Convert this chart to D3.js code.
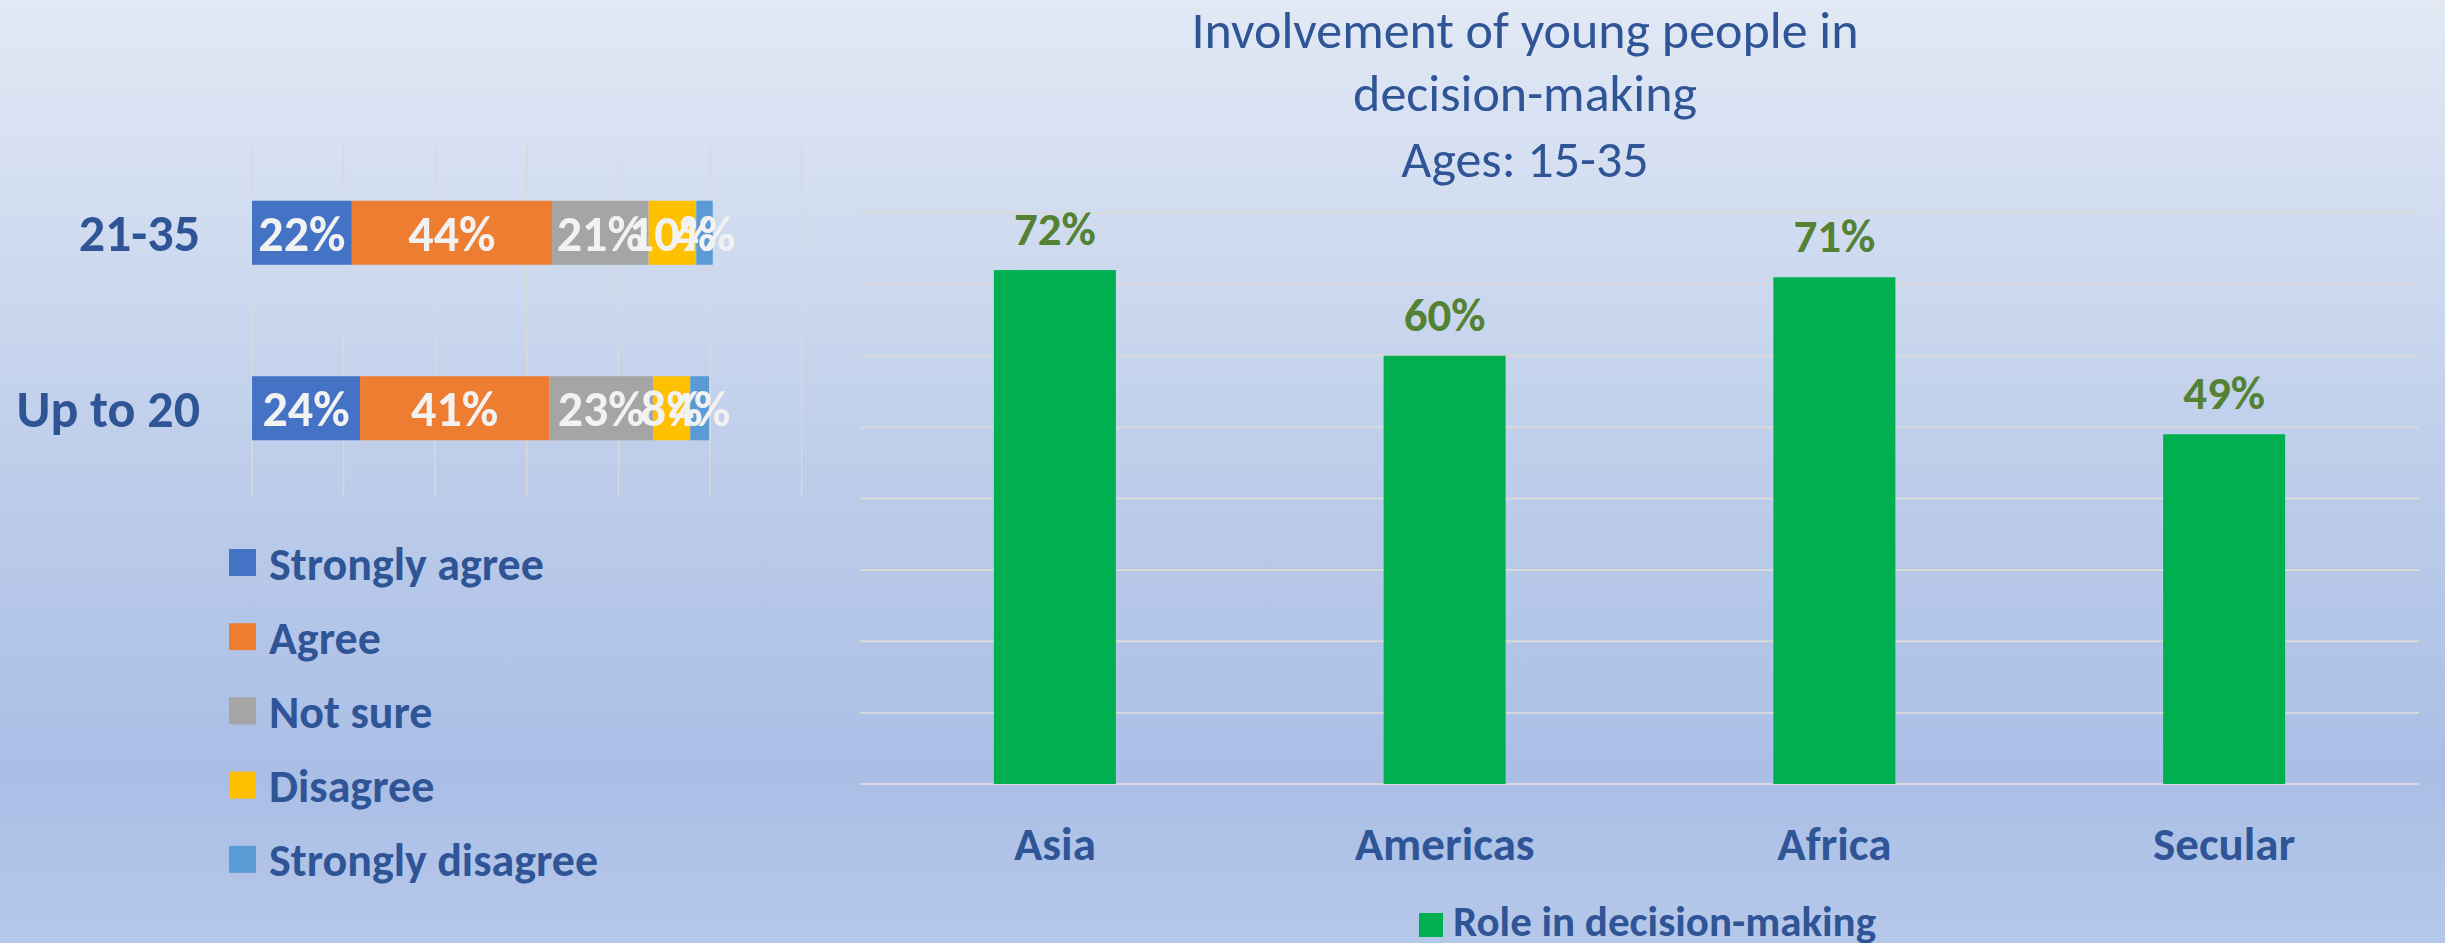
<!DOCTYPE html>
<html>
<head>
<meta charset="utf-8">
<script src="https://cdn.jsdelivr.net/npm/d3@7"></script>
<style>
  html, body { margin: 0; padding: 0; }
  body { width: 2445px; height: 943px; overflow: hidden; }
  svg text { font-family: Carlito, Calibri, Lato, "Open Sans", sans-serif; }
</style>
</head>
<body>
<svg id="chart" width="2445" height="943"></svg>
<script>
// ---------- data ----------
const ageGroups = ["21-35", "Up to 20"];
const responses = ["Strongly agree", "Agree", "Not sure", "Disagree", "Strongly disagree"];
const responseColors = ["#4472C4", "#ED7D31", "#A5A5A5", "#FFC000", "#5B9BD5"];
const values21to35 = [0.218, 0.437, 0.211, 0.104, 0.036];
const valuesUpTo20 = [0.236, 0.413, 0.227, 0.081, 0.041];
const leftTicks = [0, 0.2, 0.4, 0.6, 0.8, 1.0, 1.2];

const regions = ["Asia", "Americas", "Africa", "Secular"];
const decisionRole = [0.72, 0.60, 0.71, 0.49];
const rightTicks = [0, 0.1, 0.2, 0.3, 0.4, 0.5, 0.6, 0.7, 0.8];
const seriesName = "Role in decision-making";
const titleLines = ["Involvement of young people in", "decision-making", "Ages: 15-35"];

// ---------- setup ----------
const svg = d3.select("#chart");
const defs = svg.append("defs");
const grad = defs.append("linearGradient").attr("id", "bg").attr("x1", 0).attr("y1", 0).attr("x2", 0).attr("y2", 1);
[["0%", "#e2e9f5"], ["50%", "#bdcdea"], ["82%", "#aabee6"], ["100%", "#b6c8e9"]].forEach(([o, c]) =>
  grad.append("stop").attr("offset", o).attr("stop-color", c));
svg.append("rect").attr("width", 2445).attr("height", 943).attr("fill", "url(#bg)");

const blue = "#2F5597";
const fmt = d3.format(".0%");

// ---------- left stacked bar chart ----------
const stackRows = ageGroups.map((g, i) => {
  const vals = i === 0 ? values21to35 : valuesUpTo20;
  const row = { group: g };
  responses.forEach((r, j) => row[r] = vals[j]);
  return row;
});
const series = d3.stack().keys(responses)(stackRows);

const xL = d3.scaleLinear().domain([0, 1.2]).range([252, 801.6]);
const yL = d3.scaleBand().domain(ageGroups).range([145, 496]).paddingInner(0.635).paddingOuter(0.3175);

const left = svg.append("g");
left.append("g").selectAll("line").data(leftTicks).join("line")
  .attr("x1", d => xL(d)).attr("x2", d => xL(d))
  .attr("y1", 145).attr("y2", 496)
  .attr("stroke", "#d9d9d9").attr("stroke-width", 1.5);

const layers = left.append("g").selectAll("g").data(series).join("g")
  .attr("fill", (d, i) => responseColors[i]);
layers.selectAll("rect").data(d => d).join("rect")
  .attr("x", d => xL(d[0]))
  .attr("width", d => xL(d[1]) - xL(d[0]))
  .attr("y", d => yL(d.data.group))
  .attr("height", yL.bandwidth());

const labelLayers = left.append("g").selectAll("g").data(series).join("g");
labelLayers.selectAll("text").data(d => d.map(p => ({ p, key: d.key }))).join("text")
  .attr("x", d => (xL(d.p[0]) + xL(d.p[1])) / 2)
  .attr("y", d => yL(d.p.data.group) + yL.bandwidth() / 2)
  .attr("dy", "0.36em")
  .attr("text-anchor", "middle")
  .attr("font-size", 50).attr("font-weight", "bold")
  .attr("fill", "#f2f2f2")
  .text(d => fmt(d.p.data[d.key]));

left.append("g").selectAll("text").data(ageGroups).join("text")
  .attr("x", 200)
  .attr("y", d => yL(d) + yL.bandwidth() / 2)
  .attr("dy", "0.36em")
  .attr("text-anchor", "end")
  .attr("font-size", 52).attr("font-weight", "bold")
  .attr("fill", blue)
  .text(d => d);

const legL = left.append("g").selectAll("g").data(responses).join("g")
  .attr("transform", (d, i) => `translate(229, ${549 + i * 74.2})`);
legL.append("rect").attr("width", 27).attr("height", 27).attr("fill", (d, i) => responseColors[i]);
legL.append("text").attr("x", 40).attr("y", 13.5).attr("dy", "0.37em")
  .attr("font-size", 46).attr("font-weight", "bold").attr("fill", blue)
  .text(d => d);

// ---------- right column chart ----------
const xR = d3.scaleBand().domain(regions).range([860, 2419]).paddingInner(0.687).paddingOuter(0.3435);
const yR = d3.scaleLinear().domain([0, 0.8]).range([784, 213]);

const right = svg.append("g");
right.append("g").selectAll("line").data(rightTicks).join("line")
  .attr("x1", 860).attr("x2", 2419)
  .attr("y1", d => yR(d)).attr("y2", d => yR(d))
  .attr("stroke", "#d9d9d9").attr("stroke-width", 2);

right.append("g").selectAll("rect").data(regions).join("rect")
  .attr("x", d => xR(d))
  .attr("width", xR.bandwidth())
  .attr("y", (d, i) => yR(decisionRole[i]))
  .attr("height", (d, i) => yR(0) - yR(decisionRole[i]))
  .attr("fill", "#00B050");

right.append("g").selectAll("text").data(regions).join("text")
  .attr("x", d => xR(d) + xR.bandwidth() / 2)
  .attr("y", (d, i) => yR(decisionRole[i]) - 25)
  .attr("text-anchor", "middle")
  .attr("font-size", 47).attr("font-weight", "bold")
  .attr("fill", "#548235")
  .text((d, i) => fmt(decisionRole[i]));

right.append("g").selectAll("text").data(regions).join("text")
  .attr("x", d => xR(d) + xR.bandwidth() / 2)
  .attr("y", 860)
  .attr("text-anchor", "middle")
  .attr("font-size", 47).attr("font-weight", "bold")
  .attr("fill", blue)
  .text(d => d);

const title = right.append("text").attr("text-anchor", "middle")
  .attr("font-size", 52).attr("fill", blue);
titleLines.forEach((t, i) => title.append("tspan").attr("x", 1525).attr("y", [48, 111, 177][i]).text(t));

const legR = right.append("g").attr("transform", "translate(1419, 913)");
legR.append("rect").attr("width", 24).attr("height", 24).attr("fill", "#00B050");
legR.append("text").attr("x", 34).attr("y", 23)
  .attr("font-size", 43).attr("font-weight", "bold").attr("fill", blue)
  .text(seriesName);
</script>
</body>
</html>
